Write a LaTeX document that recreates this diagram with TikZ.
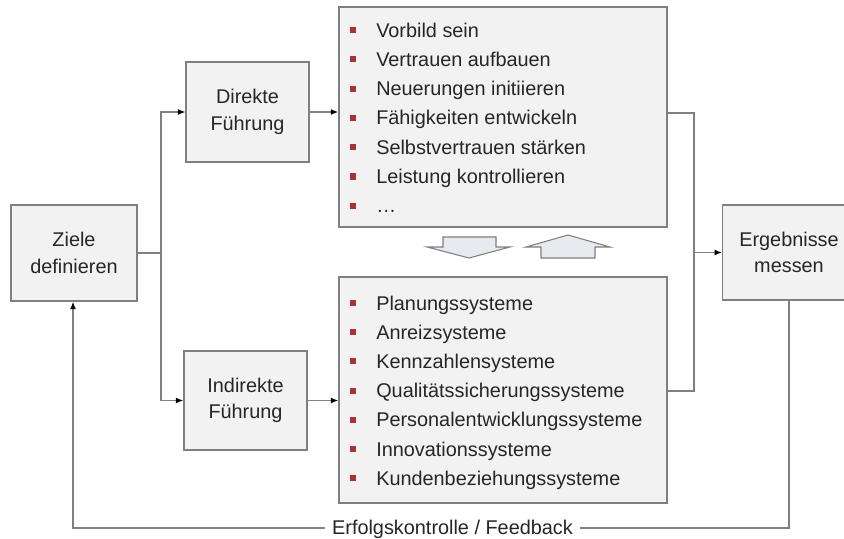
\documentclass[tikz,border=0pt]{standalone}
\usepackage{fontspec}
\setmainfont{Liberation Sans}
\usetikzlibrary{arrows.meta}

\definecolor{boxfill}{HTML}{F2F2F2}
\definecolor{boxline}{HTML}{7F7F7F}
\definecolor{wire}{HTML}{808080}
\definecolor{bulletred}{HTML}{A8323A}
\definecolor{swapfill}{HTML}{E8EAEF}

\tikzset{
  x=0.75pt, y=-0.75pt,
  txt/.style={font=\fontsize{14.9}{20}\selectfont, text=black!85},
  box/.style={draw=boxline, line width=1.1pt, fill=boxfill, inner sep=0pt,
              txt, align=center},
  item/.style={txt, anchor=base west, inner sep=0pt},
  bullet/.style={fill=bulletred, minimum size=4.6pt, inner sep=0pt},
  wireline/.style={draw=wire, line width=1pt},
  link/.style={wireline, -{Latex[length=5.5pt, width=4.5pt, color=black]}},
  swapshape/.style={draw=boxline, line width=0.8pt, fill=swapfill, line join=miter}
}

\begin{document}
\begin{tikzpicture}
\useasboundingbox (0,0) rectangle (844,539);

% process boxes
\node[box, minimum width=94.5pt, minimum height=72pt]   (ziele)   at (74,253)    {Ziele\\definieren};
\node[box, minimum width=92.25pt, minimum height=75pt]  (direkt)  at (247.5,112) {Direkte\\Führung};
\node[box, minimum width=92.25pt, minimum height=74.25pt] (indirekt) at (245.5,400.5) {Indirekte\\Führung};
% the results box runs on past the right edge of the page
\node[box, minimum width=112pt, minimum height=71.25pt, anchor=west] (ergeb) at (722,252.5) {};
\node[txt, align=center, inner sep=0pt] (ergebtxt) at (789,252.5) {Ergebnisse\\messen};

% list panels
\node[box, minimum width=246pt, minimum height=165pt] (toplist) at (503,117) {};
\node[box, minimum width=246pt, minimum height=169.5pt] (botlist) at (503,390) {};

% items of the upper panel
\foreach \t [count=\i from 0] in {Vorbild sein, Vertrauen aufbauen, Neuerungen initiieren,
    Fähigkeiten entwickeln, Selbstvertrauen stärken, Leistung kontrollieren, \dots}{
  \node[bullet] (tb\i) at (353,{30+29.3*\i}) {};
  \node[item] (ti\i) at (376,{37+29.3*\i}) {\t};
}

% items of the lower panel
\foreach \t [count=\i from 0] in {Planungssysteme, Anreizsysteme, Kennzahlensysteme,
    Qualitätssicherungssysteme, Personalentwicklungssysteme, Innovationssysteme,
    Kundenbeziehungssysteme}{
  \node[bullet] (bb\i) at (353,{303+29.2*\i}) {};
  \node[item] (bi\i) at (376,{310+29.2*\i}) {\t};
}

% interchange arrows between the panels
\path[swapshape] (443,237) -- (496,237) -- (496,247) -- (510,247) -- (469,258)
  -- (427,247) -- (443,247) -- cycle;
\path[swapshape] (541,258) -- (595,258) -- (595,247) -- (610,247) -- (568,235)
  -- (526,247) -- (541,247) -- cycle;

% split from the goals into the two kinds of leadership
\coordinate (splitT) at (161,112);
\coordinate (splitB) at (161,400.5);
\coordinate (splitM) at (161,253);
\draw[wireline] (ziele.east) -- (splitM);
\draw[link] (splitM) -- (splitT) -- (direkt.west);
\draw[link] (splitM) -- (splitB) -- (indirekt.west);

% leadership into the panels
\draw[link] (direkt.east) -- (direkt.east -| toplist.west);
\draw[link] (indirekt.east) -- (indirekt.east -| botlist.west);

% panels merge into the results
\coordinate (joinT) at (694,113);
\coordinate (joinB) at (694,391);
\coordinate (joinM) at (694,252.5);
\draw[wireline] (toplist.east |- joinT) -- (joinT) -- (joinB) -- (botlist.east |- joinB);
\draw[link] (joinM) -- (ergeb.west);

% feedback loop
\coordinate (fbR) at (789,528);
\coordinate (fbL) at (73,528);
\draw[link] (ergeb.south -| fbR) -- (fbR) -- (fbL) -- (ziele.south -| fbL);
\node[txt, fill=white, anchor=base, inner xsep=5pt, inner ysep=1pt]
  (fb) at (452.5,534) {Erfolgskontrolle / Feedback};

\end{tikzpicture}
\end{document}
